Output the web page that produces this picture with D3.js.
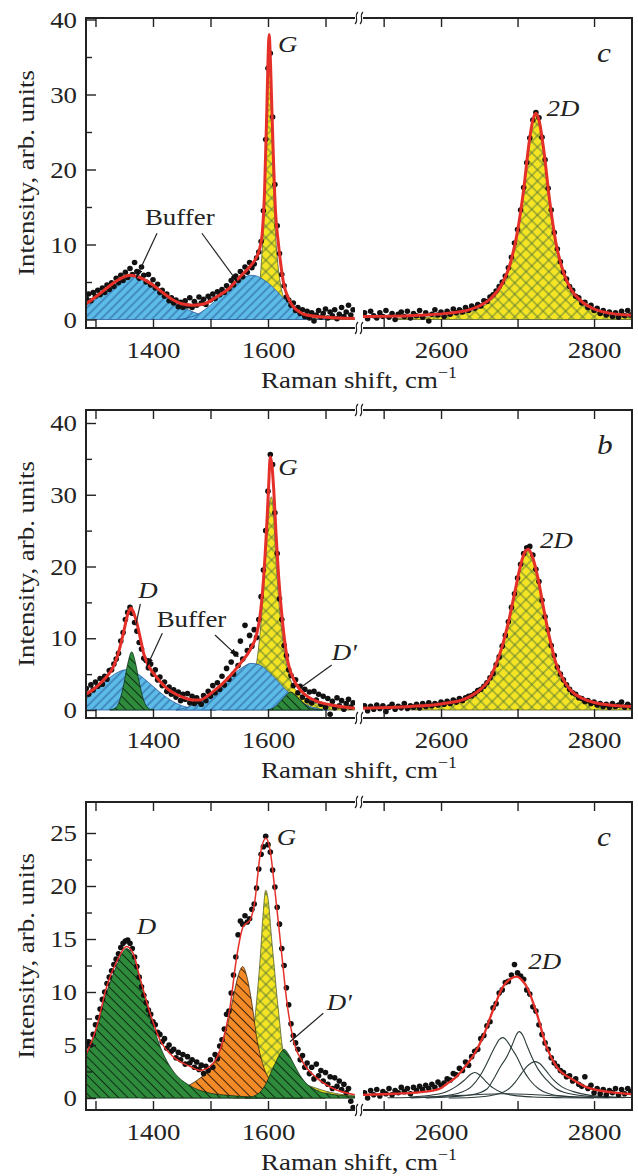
<!DOCTYPE html>
<html>
<head>
<meta charset="utf-8">
<script src="https://cdnjs.cloudflare.com/ajax/libs/d3/7.8.5/d3.min.js"></script>
<style>
body { margin: 0; background: #fff; }
svg { display: block; }
</style>
</head>
<body>
<svg id="chart" width="638" height="1176"></svg>
<script>
// ---------- data ----------
// dots: y values on a regular x grid, left part from 1284, right part from 2500, step 4 cm-1
var dotStep = 4, dotX0L = 1284, dotX0R = 2500;

var aDotsL = [2.8,3.4,2.5,3.6,3.1,3.9,3.3,4.2,3.6,4.6,
  4.0,4.9,4.4,5.5,4.9,5.9,5.2,6.3,5.6,6.8,
  6.0,7.6,6.4,5.5,7.0,5.9,5.0,6.0,4.6,5.3,
  4.2,4.7,3.6,3.9,3.1,3.4,2.5,2.9,2.2,2.6,
  1.7,2.3,1.6,2.5,1.8,2.9,1.6,2.4,1.9,3.0,
  2.2,2.7,2.0,3.1,2.6,3.4,2.8,3.7,3.3,4.0,
  3.6,4.5,4.1,5.2,4.6,5.8,5.2,6.4,5.7,7.0,
  6.3,7.6,6.9,7.4,8.2,9.0,10.4,14.5,24,33.5,
  35.5,27,18,12.5,8.8,6.0,4.5,3.0,2.6,1.9,
  2.2,1.2,1.6,0.8,1.3,0.4,1.1,0.2,0.9,-0.2,
  0.6,1.2,0.3,0.8,1.4,0.2,1.0,0.5,1.3,0.1,
  0.7,1.6,0.4,1.0,1.9,0.6,1.3];
var aDotsR = [0.9,0.1,1.1,0.5,0.2,0.9,0.4,1.2,0.3,0.8,
  0.0,0.7,1.0,0.4,1.1,0.2,0.8,0.5,1.2,0.3,
  0.9,-0.2,0.7,1.3,0.6,1.0,0.4,1.1,0.7,1.4,
  0.9,1.3,1.0,1.6,1.2,1.8,1.5,2.0,1.8,2.5,
  2.4,3.0,3.3,3.8,4.4,5.0,5.8,6.9,8.3,10.2,
  12.0,14.6,17.6,20.9,24.2,26.6,27.6,26.9,24.3,21.3,
  17.5,14.6,11.6,9.4,7.7,6.3,5.4,4.4,3.9,3.1,
  2.9,2.2,2.3,1.6,1.9,1.2,1.5,0.8,1.2,0.6,
  1.0,0.4,0.9,0.3,1.1,0.5,1.2,0.6];
var aFitL = [[1283.5,2.1],[1300,3.0],[1320,4.2],[1340,5.3],[1360,5.9],[1380,5.5],[1400,4.6],[1420,3.4],[1435,2.6],[1450,2.1],[1470,1.9],[1490,2.1],[1510,3.0],[1530,4.0],[1550,5.6],[1570,7.2],[1580,8.3],[1586,9.6],[1590,11.5],[1594,17],[1598,28],[1600,34.5],[1602,38],[1604,35],[1606,30],[1609,22.5],[1613,14.5],[1618,10.2],[1622,7.5],[1627,4.9],[1635,2.9],[1644,1.7],[1655,1.0],[1667,0.6],[1700,0.3],[1751,0.15]];
var aFitR = [[2498,0.4],[2540,0.45],[2580,0.6],[2610,0.85],[2635,1.25],[2650,1.8],[2665,2.8],[2680,4.8],[2690,7.3],[2700,11.8],[2708,17.3],[2715,23.5],[2720,26.6],[2724,27.5],[2728,26.6],[2734,22.8],[2742,15.8],[2750,10.3],[2760,6.3],[2770,4.0],[2785,2.3],[2800,1.4],[2820,0.85],[2850,0.55]];
var aBuffer1 = [[1283.5,1.9],[1300,2.7],[1320,3.8],[1340,5.0],[1360,5.8],[1380,5.4],[1400,4.4],[1420,3.3],[1435,2.4],[1450,1.7],[1470,1.0],[1490,0.45],[1510,0.18],[1530,0.05],[1550,0]];
var aBuffer2 = [[1440,0],[1460,0.2],[1475,0.6],[1490,1.3],[1510,2.6],[1530,4.0],[1550,5.2],[1570,5.9],[1580,5.8],[1590,5.4],[1600,4.9],[1610,4.2],[1620,3.4],[1630,2.6],[1640,1.8],[1650,1.1],[1660,0.6],[1670,0.25],[1685,0.05],[1700,0]];
var aG = [[1540,0.5],[1560,0.8],[1575,1.8],[1583,3.5],[1588,7],[1592,12.5],[1596,22],[1599,31],[1602,37.5],[1605,31],[1608,22],[1612,13],[1617,7.5],[1622,4.6],[1630,2.4],[1645,1.0],[1670,0.35],[1700,0.1],[1751,0]];
var a2D = [[2540,0.15],[2580,0.3],[2610,0.55],[2635,0.95],[2650,1.5],[2665,2.5],[2680,4.5],[2690,7.0],[2700,11.5],[2708,17],[2715,23.2],[2720,26.3],[2724,27.2],[2728,26.3],[2734,22.5],[2742,15.5],[2750,10.0],[2760,6.0],[2770,3.7],[2785,2.0],[2800,1.1],[2820,0.55],[2850,0.3]];

var bDotsL = [3.0,2.2,3.5,2.8,3.9,3.3,4.4,3.6,4.7,4.3,
  5.5,5.6,6.4,7.1,7.9,9.6,10.8,12.6,13.6,14.3,
  13.5,12.2,11.0,9.4,8.5,7.2,6.9,5.9,6.4,5.0,
  5.6,4.2,4.6,3.4,3.9,2.6,3.2,2.2,2.8,1.8,
  2.5,1.3,2.2,1.5,2.3,1.0,1.9,0.9,1.7,1.2,
  0.8,2.0,1.3,2.6,1.9,3.4,2.4,3.8,2.9,4.7,
  3.5,5.8,4.3,6.7,5.0,7.8,6.2,9.6,7.1,11.8,
  8.3,10.4,8.9,11.2,10.1,12.6,15.8,19.5,25,30.5,
  35.6,34.2,27.5,21.8,15.5,12.6,9.0,7.6,5.6,4.8,
  3.4,4.2,2.4,3.3,1.8,2.9,1.3,2.5,1.0,2.6,
  1.4,2.2,0.8,1.9,0.4,1.6,-0.6,1.2,0.3,1.7,
  0.6,1.3,0.1,0.9,1.5,0.4,1.0];
var bDotsR = [0.6,-0.1,0.5,0.1,0.7,0.2,0.6,-0.2,0.4,0.8,
  0.1,0.5,0.3,0.9,0.2,0.6,0.4,0.8,0.3,0.9,
  0.5,1.0,0.6,0.9,0.7,1.1,0.8,1.2,0.9,1.4,
  1.1,1.6,1.3,1.7,1.9,2.0,2.3,2.7,2.9,3.3,
  3.8,4.5,5.1,6.3,7.4,8.9,10.4,12.3,14.3,16.2,
  18.4,20.3,21.8,22.6,22.8,21.6,19.6,17.9,15.3,13.0,
  11.2,9.0,7.6,6.0,5.0,4.2,3.5,2.9,2.4,2.2,
  1.7,1.6,1.2,1.3,0.9,1.1,0.7,0.9,0.5,0.8,
  0.4,0.9,0.5,0.7,1.1,0.4,0.8,0.5];
var bFitL = [[1283.5,2.2],[1300,3.1],[1308,3.7],[1320,4.7],[1331,6.0],[1340,8.0],[1348.5,10.7],[1356,13.3],[1361.5,14.2],[1366,13.6],[1372,12.1],[1378,10],[1383.7,7.9],[1392,6.2],[1401,5.1],[1412,4.0],[1424,3.0],[1440,2.2],[1458,1.6],[1470,1.4],[1482,1.4],[1494,1.9],[1505,2.6],[1520,3.6],[1540,5.3],[1555,6.8],[1569,8.4],[1580,10.5],[1586,13],[1592,18],[1598,26],[1601,31],[1604,35.3],[1607,34],[1610,30.7],[1614,24.5],[1618.5,18.6],[1625,12.5],[1633,7.4],[1645,4.2],[1656,2.8],[1670,1.8],[1685,1.2],[1710,0.7],[1751,0.25]];
var bFitR = [[2498,0.25],[2560,0.5],[2590,0.7],[2610,1.0],[2625,1.3],[2640,2.0],[2652,2.9],[2662,4.1],[2672,6.4],[2680,8.9],[2688,12.2],[2696,16.2],[2704,20.2],[2710,22.1],[2714,22.4],[2720,21.2],[2727,18.2],[2734,14.2],[2742,10.0],[2750,6.6],[2760,4.2],[2770,2.7],[2785,1.6],[2800,1.05],[2820,0.7],[2850,0.5]];
var bD = [[1325,0],[1335,0.3],[1342,1.3],[1350,3.9],[1356,6.4],[1363,8.1],[1370,6.4],[1376,3.9],[1384,1.3],[1391,0.3],[1400,0]];
var bBuffer1 = [[1283.5,1.7],[1300,2.8],[1320,4.2],[1340,5.3],[1352,5.6],[1370,5.2],[1390,4.0],[1410,2.6],[1430,1.4],[1450,0.6],[1470,0.2],[1490,0.05],[1510,0]];
var bBuffer2 = [[1440,0],[1460,0.4],[1480,1.1],[1500,2.2],[1520,3.6],[1540,5.0],[1555,5.9],[1570,6.5],[1585,6.3],[1600,5.4],[1615,4.2],[1630,2.9],[1645,1.8],[1660,1.0],[1675,0.45],[1690,0.15],[1705,0]];
var bG = [[1520,0.8],[1545,1.4],[1560,2.4],[1570,4.0],[1580,6.5],[1586,10.5],[1592,16.5],[1598,24],[1603,29],[1606,29.7],[1609,28],[1613,22],[1618,16],[1624,11],[1632,6.5],[1640,4.0],[1650,2.6],[1665,1.6],[1680,1.0],[1700,0.6],[1720,0.35],[1751,0.2]];
var bDp = [[1600,0],[1612,0.4],[1622,1.2],[1631,2.0],[1640,2.5],[1649,2.0],[1659,1.2],[1669,0.5],[1682,0.1],[1695,0]];
var b2D = [[2560,0.3],[2590,0.5],[2610,0.8],[2625,1.1],[2640,1.8],[2652,2.7],[2662,3.9],[2672,6.2],[2680,8.7],[2688,12.0],[2696,16.0],[2704,20.0],[2710,21.9],[2714,22.2],[2720,21.0],[2727,18.0],[2734,14.0],[2742,9.8],[2750,6.4],[2760,4.0],[2770,2.5],[2785,1.4],[2800,0.85],[2820,0.5],[2850,0.3]];

var cDotsL = [4.9,5.3,5.0,6.0,6.9,7.6,8.4,9.3,10.0,10.8,
  11.4,12.0,12.6,13.1,13.6,14.2,14.6,14.8,14.9,14.6,
  14.1,13.3,12.4,11.4,10.5,9.7,9.0,8.3,7.9,7.2,
  6.9,6.2,6.0,5.3,5.6,4.7,5.0,4.4,4.6,3.8,
  4.3,3.6,4.1,3.2,3.9,3.3,3.6,2.9,3.4,2.7,
  3.1,2.3,3.0,2.6,3.6,2.9,4.1,3.7,4.9,5.5,
  6.5,7.9,8.2,9.9,11.6,13.3,15.4,16.7,16.4,17.2,
  16.6,16.9,17.8,18.3,19.8,21.6,23.0,23.7,24.7,23.9,
  23.2,21.5,19.9,18.0,16.4,14.1,12.5,10.4,8.8,7.0,
  5.9,5.2,4.6,3.6,4.0,2.9,3.3,2.3,2.9,1.8,
  3.2,2.1,2.6,1.6,2.4,1.3,2.0,0.9,1.9,1.1,
  1.6,0.8,1.3,0.5,0.9,-0.3,-0.9];
var cDotsR = [0.5,0.0,0.7,0.3,0.8,0.2,0.6,0.4,0.9,0.3,
  0.7,0.5,1.0,0.6,0.9,0.4,1.0,0.7,1.1,0.8,
  1.2,0.9,1.3,1.0,1.5,1.2,1.4,1.8,1.7,2.3,
  2.2,2.8,2.6,3.4,3.1,3.9,4.4,4.6,5.6,5.9,
  6.8,7.2,8.5,8.9,9.9,10.2,10.9,11.0,11.6,12.6,
  11.8,11.5,11.2,10.2,9.8,8.6,8.2,6.9,6.0,5.2,
  4.6,3.8,3.3,3.0,2.6,2.4,2.0,2.1,1.6,1.8,
  1.3,1.1,2.0,0.9,1.2,0.5,0.9,0.4,0.8,0.3,
  0.7,0.5,0.9,0.3,0.8,0.4,0.9,0.6];
var cFitL = [[1283.5,4.1],[1302,6.7],[1319.4,10.5],[1337,12.9],[1354,14.3],[1366,13.6],[1377,11.4],[1395,8.0],[1412,5.5],[1435,3.9],[1464,3.0],[1482,2.6],[1505,3.3],[1522,5.5],[1534,8.6],[1545.5,13.3],[1557,16.2],[1569,16.8],[1577.4,18.7],[1586,22.8],[1596.5,24.5],[1603.5,23.4],[1612,19.6],[1623.8,13.6],[1632.5,9.2],[1644,5.5],[1661.5,3.3],[1684.6,1.9],[1713.5,0.9],[1751,0.3]];
var cFitR = [[2498,0.3],[2540,0.4],[2580,0.6],[2599,0.9],[2607,1.3],[2620,2.0],[2633,3.1],[2644,4.2],[2655,5.8],[2668,8.3],[2681,10.5],[2690,11.2],[2699,11.45],[2706,11.1],[2712,10.5],[2725,8.0],[2738,4.8],[2751,2.95],[2773,1.7],[2795,0.9],[2834,0.45],[2850,0.35]];
var cD = [[1283.5,3.9],[1302,6.6],[1319,9.9],[1337,12.5],[1345,13.5],[1354,14.1],[1362,13.7],[1377,11.3],[1395,7.8],[1410,5.2],[1425,3.4],[1440,2.2],[1460,1.3],[1480,0.75],[1500,0.45],[1530,0.25],[1570,0.1],[1620,0.03],[1660,0]];
var cOrange = [[1380,0.15],[1420,0.5],[1450,0.9],[1480,1.8],[1500,2.8],[1512,3.9],[1522,5.5],[1530,7.0],[1540,9.6],[1548,11.5],[1556,12.4],[1563,11.5],[1569,9.9],[1575,7.8],[1580,5.8],[1586,4.2],[1592,3.0],[1603,1.7],[1615,1.0],[1630,0.5],[1650,0.2],[1680,0.05],[1700,0]];
var cG = [[1540,0.8],[1560,2.0],[1570,4.2],[1577,7.4],[1582,10.2],[1587,13.6],[1591,17.0],[1596,19.6],[1601,18.4],[1606,15.2],[1611,12.3],[1615,9.9],[1620,7.3],[1624,5.2],[1632,3.2],[1645,2.0],[1660,1.4],[1680,1.0],[1700,0.65],[1720,0.4],[1751,0.2]];
var cDp = [[1560,0],[1580,0.3],[1590,0.8],[1598,1.5],[1605,2.4],[1612,3.2],[1620,4.1],[1628,4.6],[1636,4.1],[1644,3.3],[1655,2.2],[1668,1.3],[1680,0.85],[1690,0.6],[1700,0.45],[1720,0.27],[1751,0.15]];
// 2D sub-bands of the bottom spectrum
var c2D1 = [[2560,0.1],[2590,0.3],[2607,0.6],[2620,1.1],[2630,1.65],[2638,2.2],[2644,2.4],[2650,2.2],[2658,1.6],[2668,0.95],[2680,0.5],[2695,0.25],[2720,0.1],[2760,0.03],[2800,0]];
var c2D2 = [[2560,0],[2590,0.1],[2620,0.4],[2640,1.1],[2651,2.1],[2658,3.0],[2664,3.9],[2671,4.9],[2676,5.5],[2681,5.7],[2687,5.3],[2693,4.6],[2699,3.9],[2707,2.7],[2716,1.7],[2728,0.85],[2741,0.4],[2770,0.1],[2820,0.02]];
var c2D3 = [[2580,0],[2610,0.1],[2640,0.3],[2660,0.85],[2668,1.7],[2678,3.0],[2686,3.9],[2693,5.0],[2698,5.9],[2702,6.26],[2707,5.9],[2712,5.0],[2718.5,3.9],[2727,2.7],[2738,1.7],[2750,0.9],[2765,0.45],[2800,0.12],[2840,0.03]];
var c2D4 = [[2610,0],[2640,0.05],[2670,0.3],[2690,0.95],[2697,1.5],[2705,2.3],[2712,2.95],[2718,3.3],[2723,3.43],[2729,3.25],[2737,2.6],[2747,1.7],[2758,1.05],[2773,0.6],[2795,0.25],[2830,0.08],[2850,0.04]];
var c2D5 = [[2530,0.02],[2580,0.1],[2620,0.22],[2650,0.33],[2680,0.4],[2710,0.35],[2740,0.24],[2780,0.1],[2830,0.02]];

// tick values
var leftTicks = [1300, 1400, 1500, 1600, 1700];
var rightTicks = [2525, 2600, 2700, 2800];
var xLabelled = [1400, 1600, 2600, 2800];

// ---------- drawing ----------
var svg = d3.select("#chart");
var defs = svg.append("defs");
var FONT = "'Liberation Serif','Times New Roman',serif";
var SX = 1.12; // glyphs in the figure are a bit wider than Times

var xL = d3.scaleLinear().domain([1283.5, 1751.3]).range([86, 355]);
var xR = d3.scaleLinear().domain([2498, 2849.6]).range([363, 632]);

function hatch(id, bg, stroke, gap, angle, cross, sw) {
    var p = defs.append("pattern")
        .attr("id", id)
        .attr("patternUnits", "userSpaceOnUse")
        .attr("width", gap).attr("height", gap)
        .attr("patternTransform", "rotate(" + angle + ")");
    p.append("rect").attr("width", gap).attr("height", gap).attr("fill", bg);
    p.append("line").attr("x1", gap / 2).attr("y1", 0).attr("x2", gap / 2).attr("y2", gap)
        .attr("stroke", stroke).attr("stroke-width", sw);
    if (cross) {
        p.append("line").attr("x1", 0).attr("y1", gap / 2).attr("x2", gap).attr("y2", gap / 2)
            .attr("stroke", stroke).attr("stroke-width", sw);
    }
}
hatch("blueH", "#5cbbe7", "#2a5d9c", 6, 45, false, 1);
hatch("greenH", "#2e8b3b", "#0e2a14", 6.5, -45, false, 1);
hatch("orangeH", "#f28a27", "#3a2008", 7, -45, false, 1);
hatch("yellowX", "#f4e424", "#3f6a3a", 8, 45, true, 0.8);

defs.append("marker")
    .attr("id", "arrow")
    .attr("viewBox", "0 0 10 6")
    .attr("refX", 10).attr("refY", 3)
    .attr("markerUnits", "userSpaceOnUse")
    .attr("markerWidth", 9).attr("markerHeight", 6)
    .attr("orient", "auto")
    .append("path").attr("d", "M0,0L10,3L0,6Z").attr("fill", "#111");

var BLUE = {fill: "url(#blueH)", stroke: "#2a5d9c"};
var GREEN = {fill: "url(#greenH)", stroke: "#12301a"};
var ORANGE = {fill: "url(#orangeH)", stroke: "#3a2a10"};
var YELLOW = {fill: "url(#yellowX)", stroke: "#56602a"};

var panels = [
    {
        top: 18, bottom: 328, y: d3.scaleLinear().domain([0, 40]).range([319.5, 19.5]),
        major: [0, 10, 20, 30, 40], minor: [5, 15, 25, 35], letter: "c",
        dotsL: aDotsL, dotsR: aDotsR, fitL: aFitL, fitR: aFitR, fitW: [3, 3],
        fills: [[aG, "L", YELLOW], [aBuffer1, "L", BLUE], [aBuffer2, "L", BLUE], [a2D, "R", YELLOW]],
        bands: [],
        labels: [["G", 1617.4, 35.7, "L", true], ["Buffer", 1386, 12.6, "L", false], ["2D", 2738, 27.1, "R", true]],
        arrows: [[1407, 11.5, 1370.5, 5.5, true], [1485, 11.5, 1548, 4.9, true]]
    },
    {
        top: 410, bottom: 718, y: d3.scaleLinear().domain([0, 40]).range([710, 423]),
        major: [0, 10, 20, 30, 40], minor: [5, 15, 25, 35], letter: "b",
        dotsL: bDotsL, dotsR: bDotsR, fitL: bFitL, fitR: bFitR, fitW: [3, 3],
        fills: [[bG, "L", YELLOW], [bBuffer1, "L", BLUE], [bBuffer2, "L", BLUE], [bD, "L", GREEN], [bDp, "L", GREEN], [b2D, "R", YELLOW]],
        bands: [],
        labels: [["D", 1374.5, 15.6, "L", true], ["Buffer", 1406.4, 11.57, "L", false], ["G", 1618, 32.75, "L", true],
                 ["D'", 1710.8, 6.97, "L", true], ["2D", 2729.4, 22.6, "R", true]],
        arrows: [[1378, 14.8, 1370, 11.8, false], [1416.2, 10.7, 1389, 6.0, true], [1507.8, 10.45, 1548.4, 7.4, true],
                 [1710.8, 6.27, 1658.6, 3.25, false]]
    },
    {
        top: 802, bottom: 1110, y: d3.scaleLinear().domain([0, 25]).range([1098, 833]),
        major: [0, 5, 10, 15, 20, 25], minor: [2.5, 7.5, 12.5, 17.5, 22.5], letter: "c",
        dotsL: cDotsL, dotsR: cDotsR, fitL: cFitL, fitR: cFitR, fitW: [1.5, 2.3],
        fills: [[cG, "L", YELLOW], [cOrange, "L", ORANGE], [cD, "L", GREEN], [cDp, "L", GREEN]],
        bands: [c2D5, c2D1, c2D2, c2D3, c2D4],
        labels: [["D", 1371.7, 15.5, "L", true], ["G", 1615.1, 23.9, "L", true], ["D'", 1702, 8.3, "L", true], ["2D", 2714, 12.2, "R", true]],
        arrows: [[1696.2, 8.0, 1638.3, 5.3, false]]
    }
];

// text stretched horizontally around its anchor point
function wideText(g, x, y, size, str) {
    return g.append("text")
        .attr("transform", "translate(" + x + "," + y + ") scale(" + SX + ",1)")
        .attr("font-size", size).attr("fill", "#222")
        .text(str);
}

panels.forEach(function (p, k) {
    var g = svg.append("g").attr("font-family", FONT);
    var y = p.y;
    var seg = {L: xL, R: xR};

    var clipL = "clipL" + k, clipR = "clipR" + k;
    defs.append("clipPath").attr("id", clipL).append("rect")
        .attr("x", 86).attr("y", p.top).attr("width", 355 - 86).attr("height", p.bottom - p.top);
    defs.append("clipPath").attr("id", clipR).append("rect")
        .attr("x", 363).attr("y", p.top).attr("width", 632 - 363).attr("height", p.bottom - p.top);
    var gL = g.append("g").attr("clip-path", "url(#" + clipL + ")");
    var gR = g.append("g").attr("clip-path", "url(#" + clipR + ")");
    var layer = {L: gL, R: gR};

    // component peaks
    p.fills.forEach(function (f) {
        var x = seg[f[1]];
        var area = d3.area()
            .x(function (d) { return x(d[0]); })
            .y0(y(0))
            .y1(function (d) { return y(d[1]); })
            .curve(d3.curveMonotoneX);
        layer[f[1]].append("path")
            .datum(f[0])
            .attr("d", area)
            .attr("fill", f[2].fill)
            .attr("stroke", f[2].stroke)
            .attr("stroke-width", 0.8);
    });

    // sub-bands drawn as thin lines
    var bandLine = d3.line()
        .x(function (d) { return xR(d[0]); })
        .y(function (d) { return y(d[1]); })
        .curve(d3.curveMonotoneX);
    p.bands.forEach(function (b) {
        gR.append("path").datum(b).attr("d", bandLine)
            .attr("fill", "none").attr("stroke", "#2b3a3a").attr("stroke-width", 1.1);
    });

    // measured points
    gL.selectAll("circle.dl").data(p.dotsL).enter().append("circle")
        .attr("cx", function (d, i) { return xL(dotX0L + i * dotStep); })
        .attr("cy", function (d) { return y(d); })
        .attr("r", 2.8).attr("fill", "#111");
    gR.selectAll("circle.dr").data(p.dotsR).enter().append("circle")
        .attr("cx", function (d, i) { return xR(dotX0R + i * dotStep); })
        .attr("cy", function (d) { return y(d); })
        .attr("r", 2.8).attr("fill", "#111");

    // fit
    [["L", p.fitL, p.fitW[0]], ["R", p.fitR, p.fitW[1]]].forEach(function (f) {
        var x = seg[f[0]];
        var line = d3.line()
            .x(function (d) { return x(d[0]); })
            .y(function (d) { return y(d[1]); })
            .curve(d3.curveMonotoneX);
        layer[f[0]].append("path").datum(f[1]).attr("d", line)
            .attr("fill", "none").attr("stroke", "#e5302a").attr("stroke-width", f[2])
            .attr("stroke-linejoin", "round");
    });

    // axes (ticks only, frame drawn separately)
    function styleAxis(a) {
        a.select(".domain").remove();
        a.selectAll("line").attr("stroke", "#222").attr("stroke-width", 1.4);
        a.selectAll("text").attr("font-family", FONT).attr("font-size", 24).attr("fill", "#222");
    }
    var fmtX = function (d) { return xLabelled.indexOf(d) >= 0 ? d : ""; };
    [[xL, leftTicks], [xR, rightTicks]].forEach(function (s) {
        var b = g.append("g").attr("transform", "translate(0," + p.bottom + ")")
            .call(d3.axisBottom(s[0]).tickValues(s[1]).tickSize(-9).tickFormat(fmtX));
        styleAxis(b);
        b.selectAll("text").attr("y", null).attr("dy", null)
            .attr("transform", "translate(0,30) scale(" + SX + ",1)");
        var t = g.append("g").attr("transform", "translate(0," + p.top + ")")
            .call(d3.axisTop(s[0]).tickValues(s[1]).tickSize(-9).tickFormat(""));
        styleAxis(t);
    });
    var yMaj = g.append("g").attr("transform", "translate(86,0)")
        .call(d3.axisLeft(y).tickValues(p.major).tickSize(-10).tickPadding(9));
    styleAxis(yMaj);
    yMaj.selectAll("text").attr("x", null)
        .attr("transform", "translate(-9,0) scale(" + SX + ",1)");
    var yMin = g.append("g").attr("transform", "translate(86,0)")
        .call(d3.axisLeft(y).tickValues(p.minor).tickSize(-6).tickFormat(""));
    styleAxis(yMin);

    // frame with broken x axis
    var fr = g.append("g").attr("stroke", "#222").attr("stroke-width", 2).attr("fill", "none");
    fr.append("line").attr("x1", 86).attr("x2", 86).attr("y1", p.top).attr("y2", p.bottom);
    fr.append("line").attr("x1", 632).attr("x2", 632).attr("y1", p.top).attr("y2", p.bottom);
    [p.top, p.bottom].forEach(function (yy) {
        fr.append("line").attr("x1", 85).attr("x2", 355).attr("y1", yy).attr("y2", yy);
        fr.append("line").attr("x1", 363).attr("x2", 633).attr("y1", yy).attr("y2", yy);
        [356.5, 361.5].forEach(function (bx) {
            fr.append("path")
                .attr("d", "M" + (bx - 1.5) + "," + (yy + 6) + " C" + (bx + 3) + "," + (yy + 2) + " " +
                    (bx - 3) + "," + (yy - 2) + " " + (bx + 1.5) + "," + (yy - 6))
                .attr("stroke-width", 1.1);
        });
    });

    // axis titles
    var xt = wideText(g, 359, p.bottom + 60, 24, null).attr("text-anchor", "middle");
    xt.append("tspan").text("Raman shift, cm");
    xt.append("tspan").text("\u22121").attr("font-size", 16).attr("dy", -10);
    g.append("text")
        .attr("transform", "translate(34," + (p.top + p.bottom) / 2 + ") rotate(-90) scale(" + SX + ",1)")
        .attr("text-anchor", "middle").attr("font-size", 24).attr("fill", "#222")
        .text("Intensity, arb. units");

    // panel letter
    wideText(g, 597, p.top + 44, 28, p.letter).attr("font-style", "italic");

    // peak labels and pointers
    p.labels.forEach(function (l) {
        wideText(g, seg[l[3]](l[1]), y(l[2]), 24, l[0])
            .attr("font-style", l[4] ? "italic" : "normal");
    });
    p.arrows.forEach(function (a) {
        g.append("line")
            .attr("x1", xL(a[0])).attr("y1", y(a[1]))
            .attr("x2", xL(a[2])).attr("y2", y(a[3]))
            .attr("stroke", "#222").attr("stroke-width", 1.2)
            .attr("marker-end", a[4] ? "url(#arrow)" : null);
    });
});
</script>
</body>
</html>
